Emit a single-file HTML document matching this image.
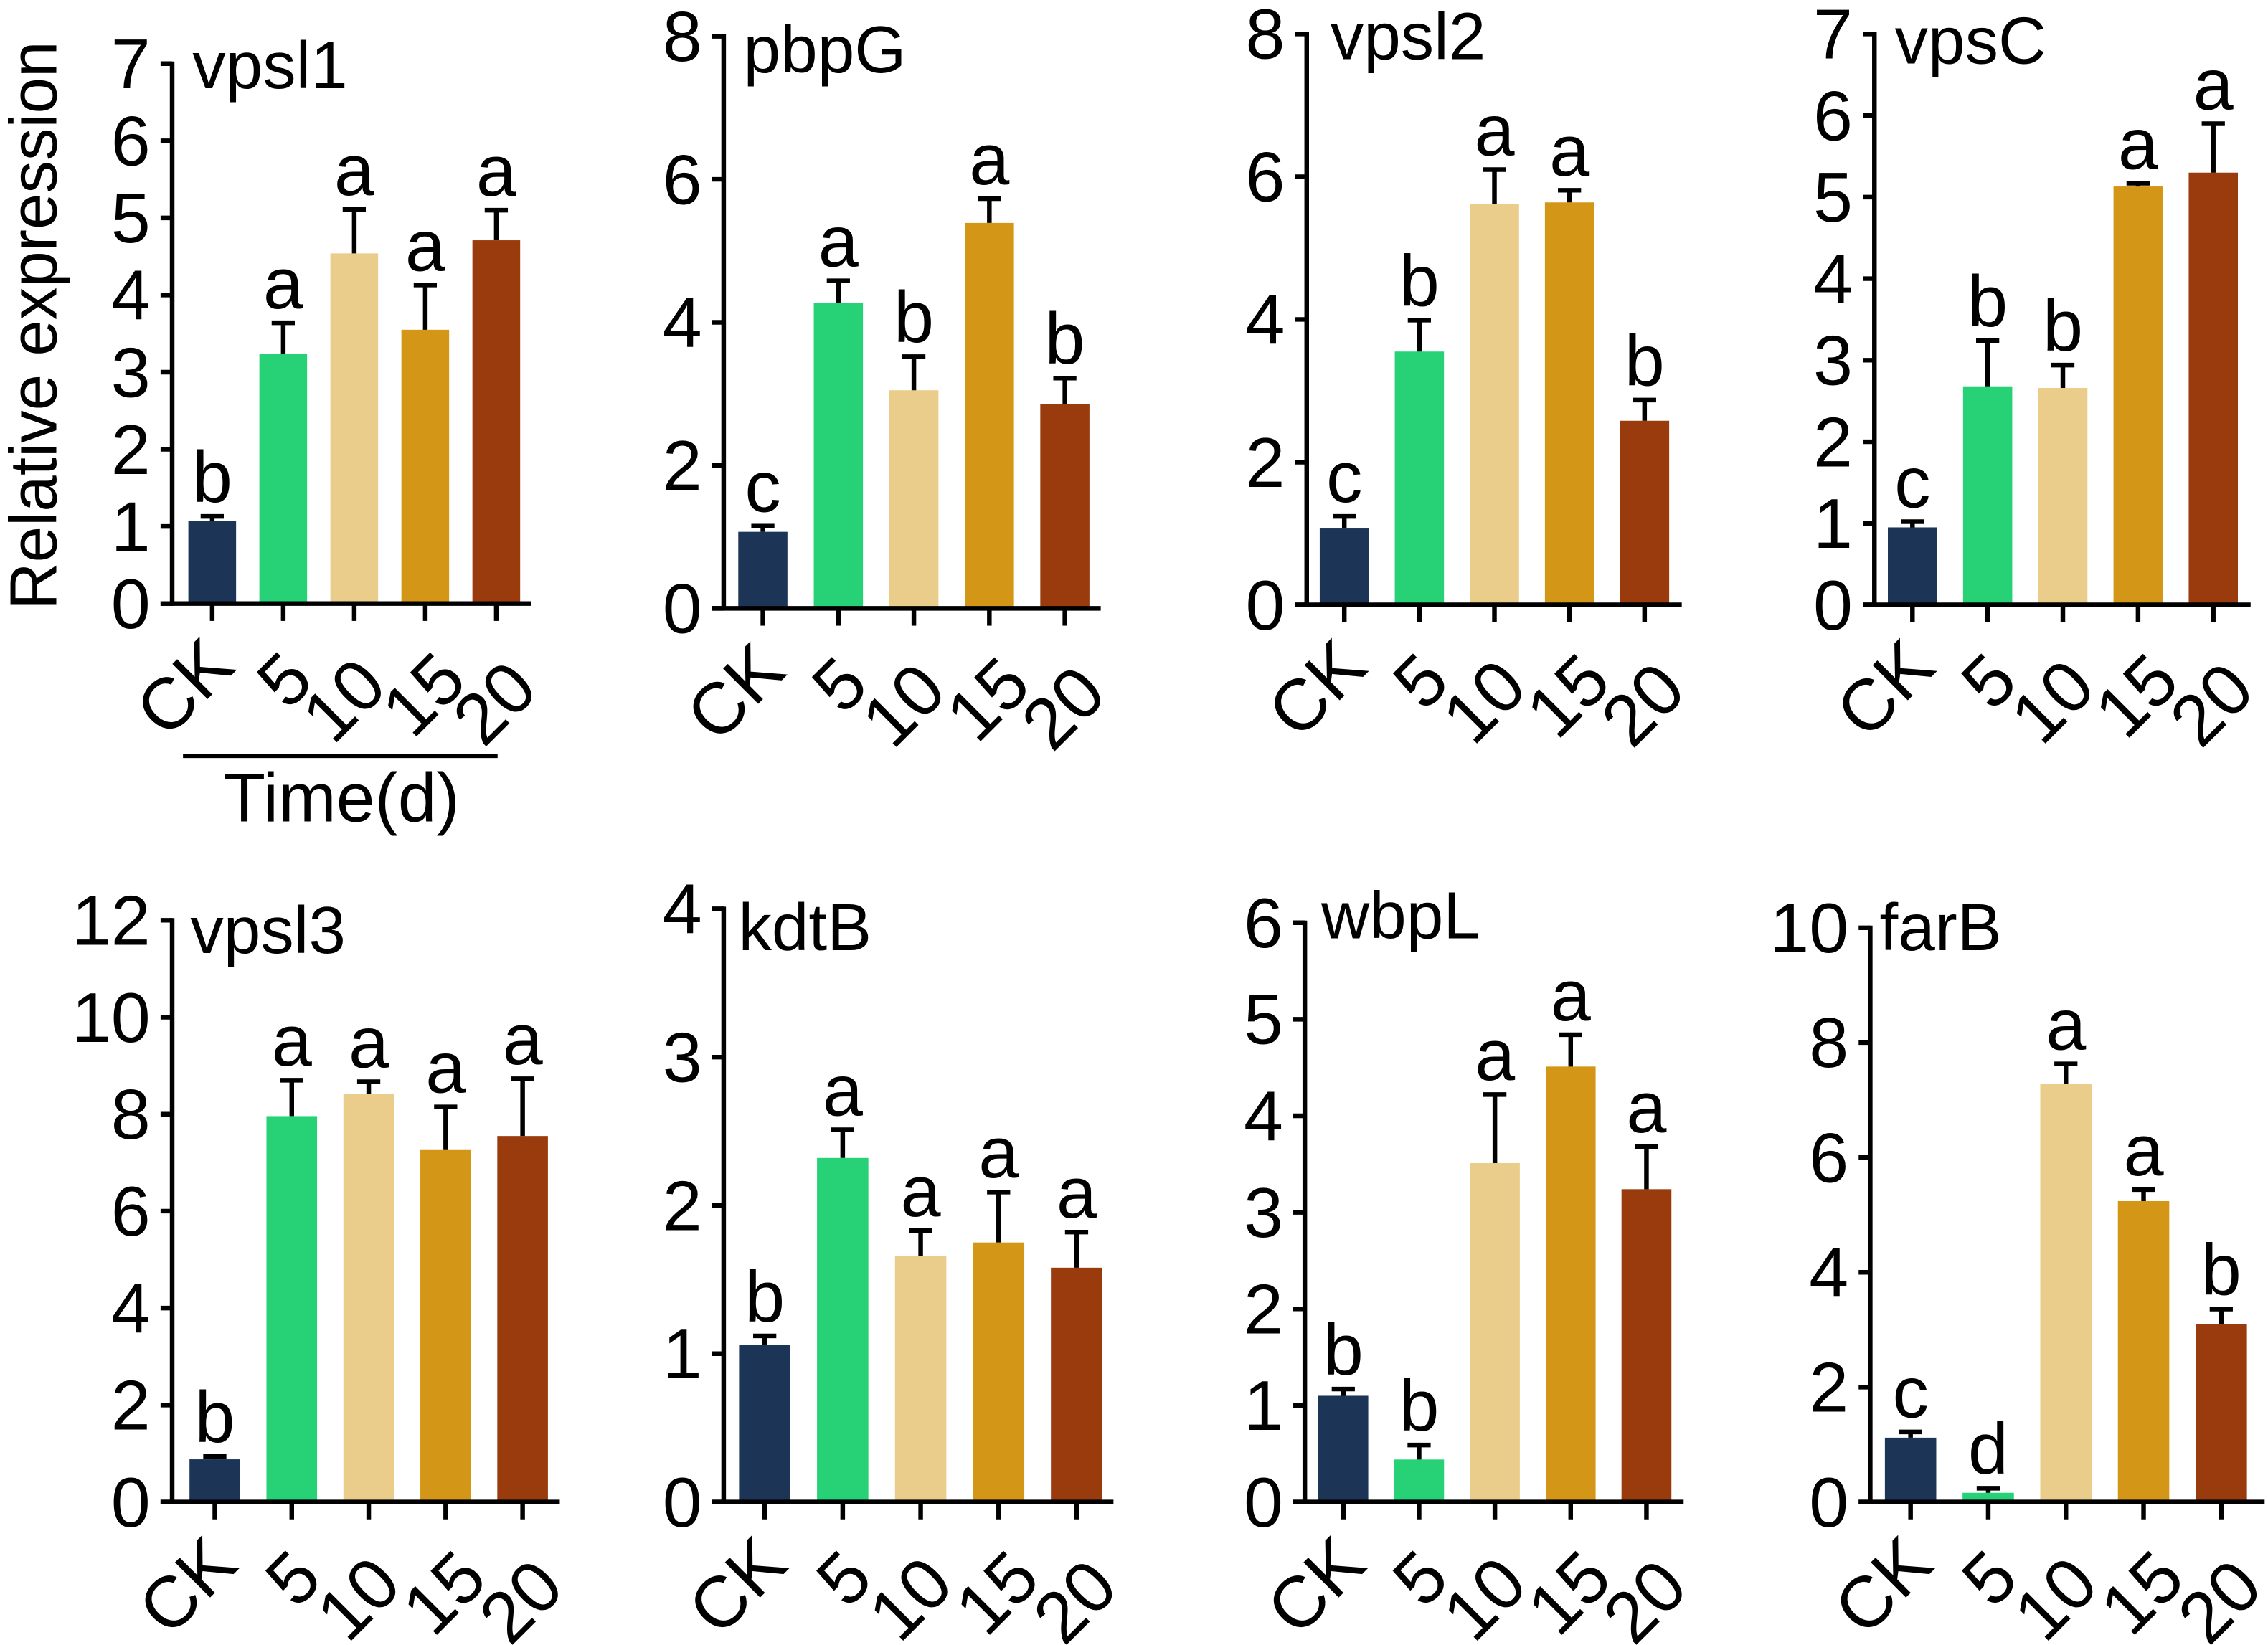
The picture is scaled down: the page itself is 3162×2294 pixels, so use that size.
<!DOCTYPE html>
<html><head><meta charset="utf-8">
<style>
html,body{margin:0;padding:0;background:#fff;}
svg{display:block;}
text{font-family:"Liberation Sans",Arial,sans-serif;fill:#000;}
</style></head>
<body>
<svg id="fig" xmlns="http://www.w3.org/2000/svg" width="3162" height="2294" viewBox="0 0 1568 1137.6">
  <text transform="translate(39,225) rotate(-90)" text-anchor="middle" font-size="46" textLength="393" lengthAdjust="spacingAndGlyphs">Relative expression</text>
  <line x1="126.5" y1="522.7" x2="344" y2="522.7" stroke="#000" stroke-width="3"/>
  <text x="236" y="568" text-anchor="middle" font-size="48">Time(d)</text>
</svg>
<script>
const categories = ['CK', '5', '10', '15', '20'];
const geneNames = ['vpsl1', 'pbpG', 'vpsl2', 'vpsC', 'vpsl3', 'kdtB', 'wbpL', 'farB'];
const yMax = [7, 8, 8, 7, 12, 4, 6, 10];
const yStep = [1, 2, 2, 1, 2, 1, 1, 2];

const vpsl1Means = [1.07, 3.24, 4.54, 3.55, 4.71];
const vpsl1Errors = [0.06, 0.40, 0.57, 0.58, 0.39];
const vpsl1Letters = ['b', 'a', 'a', 'a', 'a'];

const pbpGMeans = [1.07, 4.27, 3.05, 5.39, 2.86];
const pbpGErrors = [0.08, 0.31, 0.47, 0.34, 0.36];
const pbpGLetters = ['c', 'a', 'b', 'a', 'b'];

const vpsl2Means = [1.07, 3.55, 5.62, 5.64, 2.58];
const vpsl2Errors = [0.17, 0.44, 0.48, 0.17, 0.29];
const vpsl2Letters = ['c', 'b', 'a', 'a', 'b'];

const vpsCMeans = [0.95, 2.68, 2.66, 5.13, 5.30];
const vpsCErrors = [0.07, 0.56, 0.28, 0.04, 0.60];
const vpsCLetters = ['c', 'b', 'b', 'a', 'a'];

const vpsl3Means = [0.88, 7.96, 8.41, 7.26, 7.55];
const vpsl3Errors = [0.06, 0.74, 0.26, 0.89, 1.18];
const vpsl3Letters = ['b', 'a', 'a', 'a', 'a'];

const kdtBMeans = [1.06, 2.32, 1.66, 1.75, 1.58];
const kdtBErrors = [0.06, 0.19, 0.17, 0.34, 0.24];
const kdtBLetters = ['b', 'a', 'a', 'a', 'a'];

const wbpLMeans = [1.10, 0.44, 3.51, 4.51, 3.24];
const wbpLErrors = [0.07, 0.15, 0.71, 0.33, 0.44];
const wbpLLetters = ['b', 'b', 'a', 'a', 'a'];

const farBMeans = [1.12, 0.16, 7.28, 5.24, 3.10];
const farBErrors = [0.10, 0.08, 0.35, 0.20, 0.26];
const farBLetters = ['c', 'd', 'a', 'a', 'b'];

const allMeans = [vpsl1Means, pbpGMeans, vpsl2Means, vpsCMeans, vpsl3Means, kdtBMeans, wbpLMeans, farBMeans];
const allErrors = [vpsl1Errors, pbpGErrors, vpsl2Errors, vpsCErrors, vpsl3Errors, kdtBErrors, wbpLErrors, farBErrors];
const allLetters = [vpsl1Letters, pbpGLetters, vpsl2Letters, vpsCLetters, vpsl3Letters, kdtBLetters, wbpLLetters, farBLetters];

const barColors = ['#1c3557', '#27d276', '#ebcd8b', '#d39617', '#9a3b0e'];

const layout = [
  {ax:119,   base:417.4,  top:44,    right:367,    c0:146.7,  sp:49.1, bw:33,   tx:133,    ty:61},
  {ax:500.3, base:420.7,  top:25.1,  right:761,    c0:527.4,  sp:52.2, bw:34,   tx:514,    ty:50},
  {ax:903.4, base:418.3,  top:23.5,  right:1162.7, c0:929.4,  sp:51.9, bw:34,   tx:919.8,  ty:41},
  {ax:1295.9,base:418.3,  top:23.5,  right:1556,   c0:1322.2, sp:52,   bw:34,   tx:1310,   ty:44},
  {ax:119,   base:1038.7, top:636.4, right:387,    c0:148.5,  sp:53.2, bw:35,   tx:131.6,  ty:659},
  {ax:500.3, base:1038.7, top:628.5, right:769.8,  c0:528.7,  sp:53.9, bw:35.5, tx:510.5,  ty:657},
  {ax:902.1, base:1038.7, top:638.1, right:1164,   c0:928.7,  sp:52.4, bw:34.5, tx:913.5,  ty:649},
  {ax:1293,  base:1038.7, top:641.6, right:1565.7, c0:1320.9, sp:53.7, bw:35.5, tx:1299.5, ty:657}
];
const labelDx = [-19, 1, -7, -1, -1];
const labelDy = [58, 53, 67, 63, 69];

const NS = 'http://www.w3.org/2000/svg';
const svg = document.getElementById('fig');
function mk(tag, attrs, parent) {
  const e = document.createElementNS(NS, tag);
  for (const k in attrs) e.setAttribute(k, attrs[k]);
  (parent || svg).appendChild(e);
  return e;
}

for (let p = 0; p < 8; p++) {
  const L = layout[p];
  const yScale = v => L.base - (v / yMax[p]) * (L.base - L.top);
  const xScale = i => L.c0 + i * L.sp;
  const g = mk('g', {});
  
  

  for (let i = 0; i < categories.length; i++) {
    const v = allMeans[p][i];
    const cx = xScale(i);
    const r = mk('rect', {x: cx - L.bw / 2, y: yScale(v), width: L.bw, height: L.base - yScale(v), fill: barColors[i]}, g);
    
    
    const et = v + allErrors[p][i];
    const eb = mk('path', {d: 'M' + cx + ' ' + yScale(v) + 'V' + yScale(et) + 'M' + (cx - 8) + ' ' + yScale(et) + 'H' + (cx + 8), stroke: '#000', 'stroke-width': 3.2, fill: 'none'}, g);
    
    
    const lt = mk('text', {x: cx, y: yScale(et) - 10, 'text-anchor': 'middle', 'font-size': 50}, g);
    lt.textContent = allLetters[p][i];
    
    
  }

  const ya = mk('line', {x1: L.ax, y1: L.top - 1.5, x2: L.ax, y2: L.base + 1.5, stroke: '#000', 'stroke-width': 3.2}, g);
  
  
  const xa = mk('line', {x1: L.ax - 8, y1: L.base, x2: L.right, y2: L.base, stroke: '#000', 'stroke-width': 3.2}, g);
  
  

  for (let v = 0; v <= yMax[p] + 1e-9; v += yStep[p]) {
    const y = yScale(v);
    const t = mk('line', {x1: L.ax - 8, y1: y, x2: L.ax, y2: y, stroke: '#000', 'stroke-width': 3.2}, g);
    
    
    const tl = mk('text', {x: L.ax - 15, y: y + 17, 'text-anchor': 'end', 'font-size': 49}, g);
    tl.textContent = String(v);
    
    
  }

  for (let i = 0; i < categories.length; i++) {
    const cx = xScale(i);
    const t = mk('line', {x1: cx, y1: L.base, x2: cx, y2: L.base + 12, stroke: '#000', 'stroke-width': 3.2}, g);
    
    
    const lx = cx + labelDx[i], ly = L.base + labelDy[i];
    const xl = mk('text', {x: lx, y: ly, 'text-anchor': 'middle', 'dominant-baseline': 'central', 'font-size': 50, transform: 'rotate(-45 ' + lx + ' ' + ly + ')'}, g);
    xl.textContent = categories[i];
    
    
  }

  const tt = mk('text', {x: L.tx, y: L.ty, 'font-size': 46}, g);
  tt.textContent = geneNames[p];
  
  
}
</script>
</body></html>
